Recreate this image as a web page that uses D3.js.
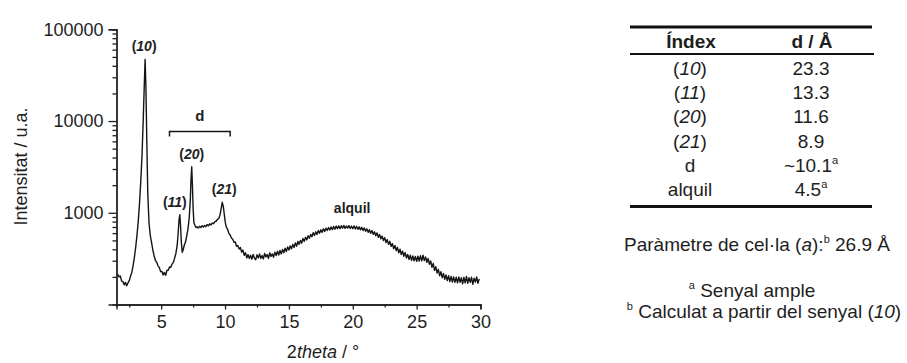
<!doctype html>
<html>
<head>
<meta charset="utf-8">
<style>
    body { margin: 0; background: #fff; }
    svg text { font-family: "Liberation Sans", Arial, sans-serif; fill: #1e1e1e; }
    .axis path, .axis line { stroke: #1e1e1e; stroke-width: 1.3; }
</style>
<script src="https://d3js.org/d3.v7.min.js"></script>
</head>
<body>
<svg width="907" height="363"></svg>
<script>
// diffractogram, [2theta, intensity]
var pattern = [
 [1.6,214],[1.7,200],[1.8,204],[1.9,180],[2.0,178],[2.1,164],[2.2,174],[2.3,160],[2.4,172],[2.5,182],
 [2.6,204],[2.7,224],[2.8,266],[2.9,326],[3.0,420],[3.1,560],[3.2,800],[3.3,1250],[3.4,2200],[3.5,4300],
 [3.6,11000],[3.68,26000],[3.74,47000],[3.8,24000],[3.87,6500],[3.95,1600],[4.05,760],[4.15,560],[4.25,470],[4.35,390],
 [4.45,338],[4.55,302],[4.65,288],[4.75,264],[4.85,254],[4.95,228],[5.05,230],[5.15,210],[5.25,224],[5.35,208],
 [5.45,236],[5.55,236],[5.65,256],[5.75,254],[5.85,276],[5.95,288],[6.05,320],[6.15,360],[6.25,440],[6.32,580],
 [6.4,850],[6.46,950],[6.52,700],[6.58,470],[6.65,370],[6.72,395],[6.8,440],[6.9,480],[7.0,560],[7.1,670],
 [7.2,900],[7.28,1400],[7.34,2400],[7.39,3175],[7.44,2100],[7.5,1100],[7.56,780],[7.64,730],[7.72,690],[7.8,705],
 [7.9,680],[8.0,712],[8.1,690],[8.2,722],[8.3,700],[8.4,728],[8.5,706],[8.6,745],[8.7,722],[8.8,758],
 [8.9,736],[9.0,772],[9.1,760],[9.2,800],[9.3,808],[9.4,846],[9.5,868],[9.6,940],[9.7,1120],[9.78,1300],
 [9.86,1180],[9.94,960],[10.02,780],[10.1,700],[10.2,660],[10.3,596],[10.4,572],[10.5,530],[10.6,515],[10.7,476],
 [10.8,480],[10.9,432],[11.0,440],[11.1,402],[11.2,418],[11.3,372],[11.4,392],[11.5,344],[11.6,366],[11.7,322],
 [11.8,350],[11.9,318],[12.0,345],[12.1,312],[12.2,352],[12.3,320],[12.4,308],[12.5,348],[12.6,322],[12.7,356],
 [12.8,318],[12.9,342],[13.0,314],[13.1,360],[13.2,330],[13.3,350],[13.4,318],[13.5,366],[13.6,334],[13.7,356],
 [13.8,328],[13.9,372],[14.0,342],[14.1,380],[14.2,346],[14.3,388],[14.4,356],[14.5,398],[14.6,366],[14.7,410],
 [14.8,378],[14.9,425],[15.0,392],[15.1,436],[15.2,404],[15.3,452],[15.4,418],[15.5,470],[15.6,432],[15.7,488],
 [15.8,452],[15.9,500],[16.0,466],[16.1,525],[16.2,488],[16.3,540],[16.4,506],[16.5,562],[16.6,528],[16.7,580],
 [16.8,548],[16.9,605],[17.0,566],[17.1,620],[17.2,580],[17.3,640],[17.4,598],[17.5,652],[17.6,612],[17.7,668],
 [17.8,624],[17.9,680],[18.0,640],[18.1,690],[18.2,648],[18.3,700],[18.4,655],[18.5,708],[18.6,662],[18.7,716],
 [18.8,670],[18.9,720],[19.0,672],[19.1,722],[19.2,678],[19.3,728],[19.4,676],[19.5,718],[19.6,680],[19.7,724],
 [19.8,674],[19.9,716],[20.0,672],[20.1,718],[20.2,666],[20.3,710],[20.4,660],[20.5,702],[20.6,652],[20.7,694],
 [20.8,640],[20.9,684],[21.0,628],[21.1,668],[21.2,612],[21.3,654],[21.4,598],[21.5,640],[21.6,582],[21.7,620],
 [21.8,562],[21.9,604],[22.0,540],[22.1,580],[22.2,520],[22.3,556],[22.4,498],[22.5,536],[22.6,474],[22.7,510],
 [22.8,452],[22.9,488],[23.0,430],[23.1,462],[23.2,406],[23.3,440],[23.4,386],[23.5,420],[23.6,366],[23.7,400],
 [23.8,350],[23.9,382],[24.0,336],[24.1,368],[24.2,322],[24.3,352],[24.4,310],[24.5,344],[24.6,304],[24.7,338],
 [24.8,300],[24.9,334],[25.0,296],[25.1,336],[25.2,298],[25.3,340],[25.4,300],[25.5,345],[25.6,302],[25.7,330],
 [25.8,288],[25.9,318],[26.0,274],[26.1,298],[26.2,254],[26.3,280],[26.4,236],[26.5,258],[26.6,220],[26.7,242],
 [26.8,206],[26.9,228],[27.0,196],[27.1,218],[27.2,188],[27.3,210],[27.4,182],[27.5,206],[27.6,178],[27.7,202],
 [27.8,176],[27.9,200],[28.0,174],[28.1,198],[28.2,172],[28.3,200],[28.4,174],[28.5,196],[28.6,168],[28.7,198],
 [28.8,172],[28.9,202],[29.0,170],[29.1,196],[29.2,174],[29.3,198],[29.4,166],[29.5,194],[29.6,176],[29.7,200],
 [29.8,170],[29.9,190]
];

var xMajor = [5, 10, 15, 20, 25, 30];
var xMinor = [2.5, 7.5, 12.5, 17.5, 22.5, 27.5];
var yMajor = [1000, 10000, 100000];
var yMinor = [200,300,400,500,600,700,800,900,2000,3000,4000,5000,6000,7000,8000,9000,
              20000,30000,40000,50000,60000,70000,80000,90000];

// reflection labels: index, 2theta, intensity at peak top
var peakIdx = ["10", "11", "20", "21"];
var peakPos = [3.74, 6.46, 7.39, 9.78];
var peakInt = [47000, 950, 3175, 1300];
var dRange = [5.65, 10.4], dInt = 7700;
var alkylPos = 19.95, alkylInt = 700;

// table
var tIndex = ["10", "11", "20", "21", "d", "alquil"];
var tD = ["23.3", "13.3", "11.6", "8.9", "~10.1", "4.5"];
var tNote = ["", "", "", "", "a", "a"];

var svg = d3.select("svg");

var x = d3.scaleLinear().domain([1.5, 30]).range([116.5, 480.5]);
var y = d3.scaleLog().domain([100, 100000]).range([304.5, 29.3]);

svg.append("clipPath").attr("id", "clip")
   .append("rect").attr("x", x(1.5)).attr("y", y(100000))
   .attr("width", x(30) - x(1.5)).attr("height", y(100) - y(100000));

svg.append("path")
   .datum(pattern)
   .attr("clip-path", "url(#clip)")
   .attr("fill", "none")
   .attr("stroke", "#141414")
   .attr("stroke-width", 1.4)
   .attr("stroke-linejoin", "round")
   .attr("d", d3.line().x(function(d) { return x(d[0]); }).y(function(d) { return y(d[1]); }));

// axes
var gx = svg.append("g").attr("class", "axis").attr("transform", "translate(0," + y(100) + ")");
gx.call(d3.axisBottom(x).tickValues(xMinor).tickSize(3).tickFormat(""));
var gx2 = svg.append("g").attr("class", "axis").attr("transform", "translate(0," + y(100) + ")");
gx2.call(d3.axisBottom(x).tickValues(xMajor).tickSize(5).tickPadding(6).tickFormat(d3.format("d")));
gx2.selectAll("text").attr("font-size", 18);

var gy = svg.append("g").attr("class", "axis").attr("transform", "translate(" + x(1.5) + ",0)");
gy.call(d3.axisLeft(y).tickValues(yMinor).tickSize(4).tickFormat(""));
var gy2 = svg.append("g").attr("class", "axis").attr("transform", "translate(" + x(1.5) + ",0)");
gy2.call(d3.axisLeft(y).tickValues(yMajor).tickSize(8).tickPadding(5).tickFormat(d3.format("d")));
gy2.selectAll("text").attr("font-size", 18);
svg.selectAll(".axis .domain").attr("fill", "none");

svg.append("text")
   .attr("transform", "translate(27,166.5) rotate(-90)")
   .attr("text-anchor", "middle")
   .attr("font-size", 18)
   .text("Intensitat / u.a.");

var xt = svg.append("text").attr("x", 323).attr("y", 358)
   .attr("text-anchor", "middle").attr("font-size", 18);
xt.append("tspan").text("2");
xt.append("tspan").attr("font-style", "italic").text("theta");
xt.append("tspan").text(" / °");

// peak labels
var pl = svg.selectAll(".plabel").data(peakIdx).enter().append("text")
   .attr("class", "plabel")
   .attr("x", function(d, i) { return x(peakPos[i]) + [-1, -5, 0, 2][i]; })
   .attr("y", function(d, i) { return y(peakInt[i]) - 8; })
   .attr("text-anchor", "middle")
   .attr("font-size", 14)
   .attr("font-weight", "bold");
pl.append("tspan").text("(");
pl.append("tspan").attr("font-style", "italic").text(function(d) { return d; });
pl.append("tspan").text(")");

// d bracket
var yb = y(dInt);
svg.append("path")
   .attr("d", "M" + x(dRange[0]) + "," + (yb + 5) + "V" + yb + "H" + x(dRange[1]) + "V" + (yb + 5))
   .attr("fill", "none").attr("stroke", "#161616").attr("stroke-width", 1.5);
svg.append("text")
   .attr("x", (x(dRange[0]) + x(dRange[1])) / 2).attr("y", yb - 10)
   .attr("text-anchor", "middle").attr("font-size", 15).attr("font-weight", "bold")
   .text("d");

svg.append("text")
   .attr("x", x(alkylPos)).attr("y", y(alkylInt) - 14)
   .attr("text-anchor", "middle").attr("font-size", 14).attr("font-weight", "bold")
   .text("alquil");

// table on the right
var tb = svg.append("g");
tb.append("line").attr("x1", 630).attr("x2", 872).attr("y1", 27).attr("y2", 27)
  .attr("stroke", "#111").attr("stroke-width", 3);
tb.append("line").attr("x1", 630).attr("x2", 874).attr("y1", 54).attr("y2", 54)
  .attr("stroke", "#111").attr("stroke-width", 2);
tb.append("line").attr("x1", 630).attr("x2", 872).attr("y1", 206.5).attr("y2", 206.5)
  .attr("stroke", "#111").attr("stroke-width", 3);

tb.append("text").attr("x", 691).attr("y", 48).attr("text-anchor", "middle")
  .attr("font-size", 19).attr("font-weight", "bold").text("Índex");
tb.append("text").attr("x", 812).attr("y", 48).attr("text-anchor", "middle")
  .attr("font-size", 19).attr("font-weight", "bold").text("d / Å");

var rowY = d3.scaleLinear().domain([0, 5]).range([75, 196]);

var ci = tb.selectAll(".ci").data(tIndex).enter().append("text")
  .attr("class", "ci")
  .attr("x", 690).attr("y", function(d, i) { return rowY(i); })
  .attr("text-anchor", "middle").attr("font-size", 19);
ci.each(function(d) {
    var t = d3.select(this);
    if (/^\d+$/.test(d)) {
        t.append("tspan").text("(");
        t.append("tspan").attr("font-style", "italic").text(d);
        t.append("tspan").text(")");
    } else {
        t.text(d);
    }
});

var cd = tb.selectAll(".cd").data(tD).enter().append("text")
  .attr("class", "cd")
  .attr("x", 811).attr("y", function(d, i) { return rowY(i); })
  .attr("text-anchor", "middle").attr("font-size", 19);
cd.append("tspan").text(function(d) { return d; });
cd.append("tspan").attr("font-size", 11).attr("dy", -8)
  .text(function(d, i) { return tNote[i]; });

// footnotes
var f1 = svg.append("text").attr("x", 757).attr("y", 251).attr("text-anchor", "middle").attr("font-size", 19);
f1.append("tspan").text("Paràmetre de cel·la (");
f1.append("tspan").attr("font-style", "italic").text("a");
f1.append("tspan").text("):");
f1.append("tspan").attr("font-size", 11).attr("dy", -8).text("b");
f1.append("tspan").attr("dy", 8).text(" 26.9 Å");

var f2 = svg.append("text").attr("x", 752).attr("y", 297).attr("text-anchor", "middle").attr("font-size", 19);
f2.append("tspan").attr("font-size", 11).attr("dy", -8).text("a");
f2.append("tspan").attr("dy", 8).text(" Senyal ample");

var f3 = svg.append("text").attr("x", 764).attr("y", 318).attr("text-anchor", "middle").attr("font-size", 19);
f3.append("tspan").attr("font-size", 11).attr("dy", -8).text("b");
f3.append("tspan").attr("dy", 8).text(" Calculat a partir del senyal (");
f3.append("tspan").attr("font-style", "italic").text("10");
f3.append("tspan").text(")");
</script>
</body>
</html>
